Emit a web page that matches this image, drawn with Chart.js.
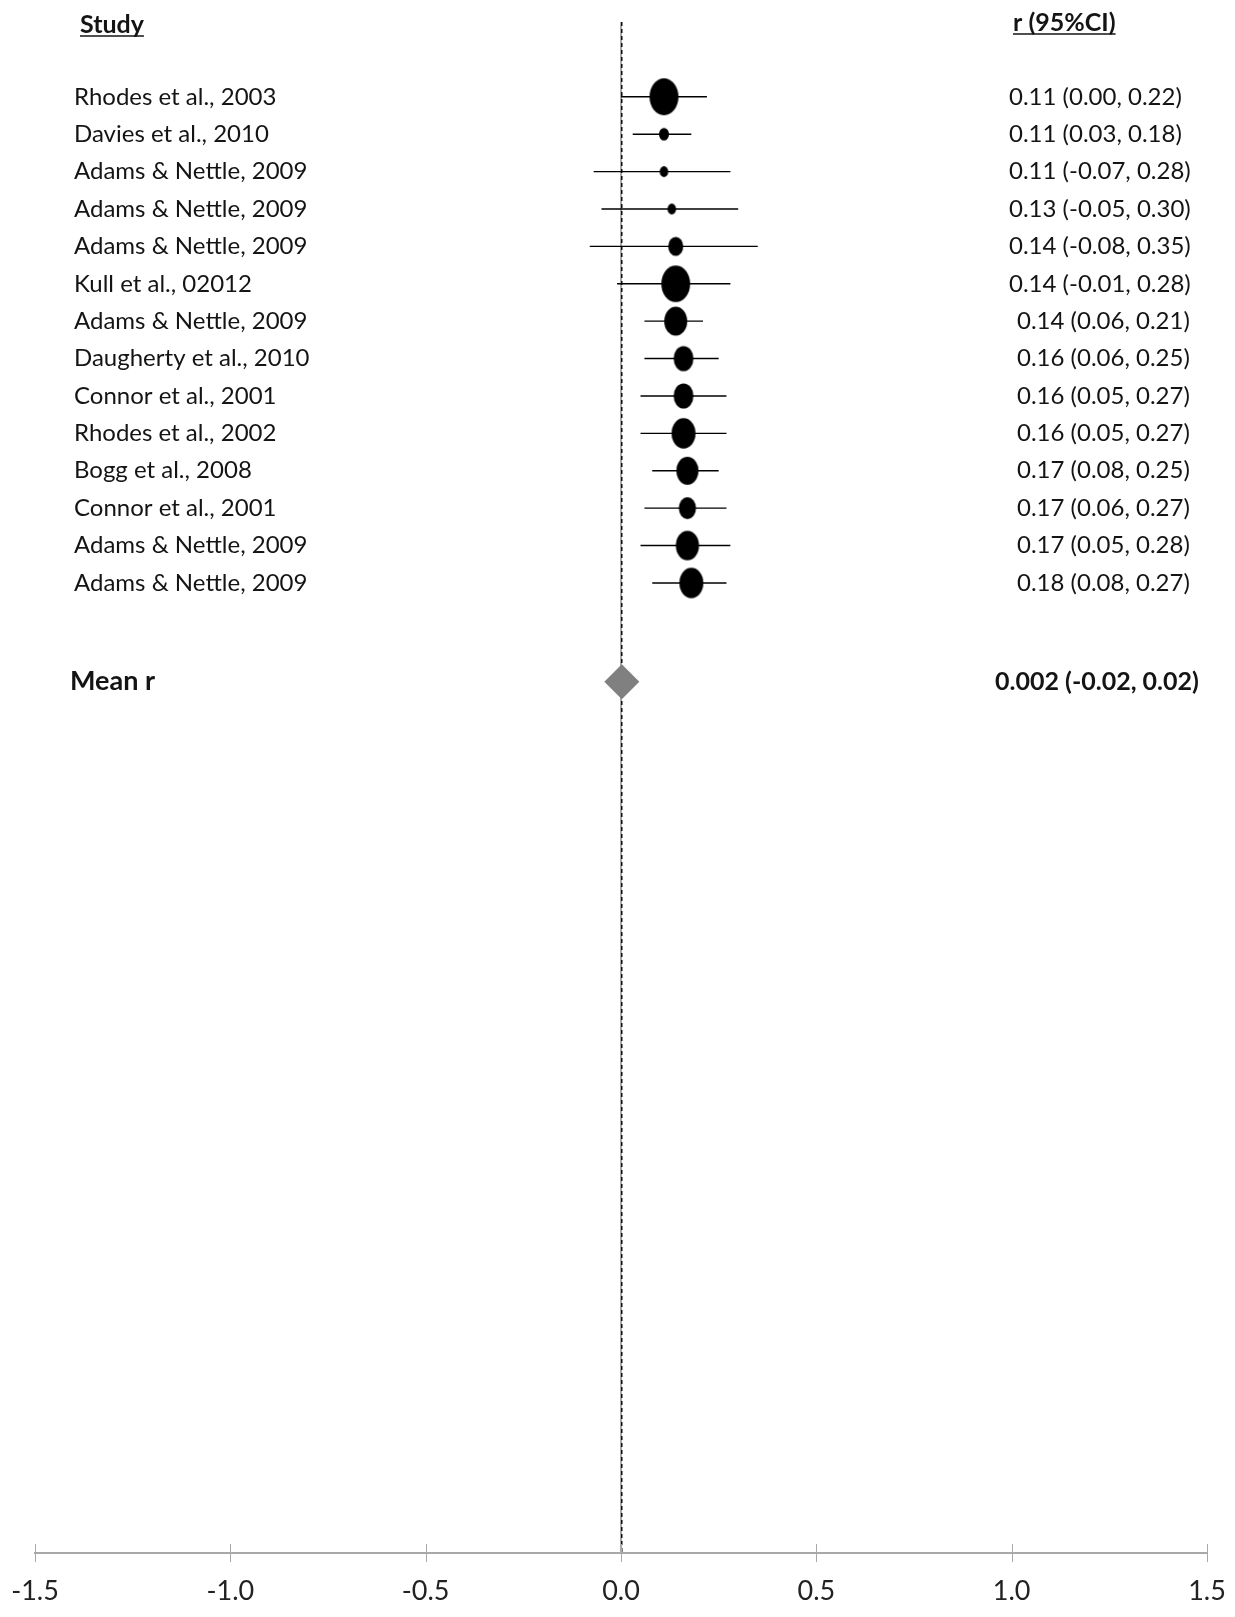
<!DOCTYPE html>
<html>
<head>
<meta charset="utf-8">
<script src="https://cdn.jsdelivr.net/npm/chart.js@4.4.1/dist/chart.umd.min.js"></script>
<style>
  html, body { margin: 0; padding: 0; background: #fff; }
  #c { display: block; }
</style>
</head>
<body>
<canvas id="c" width="1235" height="1617"></canvas>
<script>
// Forest plot: correlation r with 95% CI per study, plus pooled mean
const studies = [
  'Rhodes et al., 2003',
  'Davies et al., 2010',
  'Adams & Nettle, 2009',
  'Adams & Nettle, 2009',
  'Adams & Nettle, 2009',
  'Kull et al., 02012',
  'Adams & Nettle, 2009',
  'Daugherty et al., 2010',
  'Connor et al., 2001',
  'Rhodes et al., 2002',
  'Bogg et al., 2008',
  'Connor et al., 2001',
  'Adams & Nettle, 2009',
  'Adams & Nettle, 2009'
];
const r     = [0.11, 0.11, 0.11, 0.13, 0.14, 0.14, 0.14, 0.16, 0.16, 0.16, 0.17, 0.17, 0.17, 0.18];
const lower = [0.00, 0.03, -0.07, -0.05, -0.08, -0.01, 0.06, 0.06, 0.05, 0.05, 0.08, 0.06, 0.05, 0.08];
const upper = [0.22, 0.18, 0.28, 0.30, 0.35, 0.28, 0.21, 0.25, 0.27, 0.27, 0.25, 0.27, 0.28, 0.27];
const meanR = 0.002;
const meanLower = -0.02;
const meanUpper = 0.02;
const xTicks = [-1.5, -1.0, -0.5, 0.0, 0.5, 1.0, 1.5];

// Marker half-widths (px) reflecting study weight; markers are drawn as upright ellipses
const markerRadius = [14.5, 5, 4.3, 4.3, 7.5, 14.4, 11.5, 9.9, 9.9, 12, 11, 8.6, 11.6, 12];

// Row layout on the vertical (index) scale
const Y_MIN = -2, Y_MAX = 38.94, MEAN_ROW = 15.64;
const FONT = 'Lato, "Open Sans", sans-serif';
const AXIS_FONT = '"Liberation Sans Narrow", "Arial Narrow", Lato, sans-serif';
const TEXT = '#141414';

function ellipseMarker(rx) {
  const ry = rx * 1.27;
  const c = document.createElement('canvas');
  c.width = Math.ceil(2 * rx + 2);
  c.height = Math.ceil(2 * ry + 2);
  const g = c.getContext('2d');
  g.fillStyle = '#000';
  g.beginPath();
  g.ellipse(c.width / 2, c.height / 2, rx, ry, 0, 0, Math.PI * 2);
  g.fill();
  return c;
}
const markers = markerRadius.map(ellipseMarker);

const fmt = v => v.toFixed(2);
const ciText = studies.map((_, i) => `${fmt(r[i])} (${fmt(lower[i])}, ${fmt(upper[i])})`);
const meanText = `${meanR.toFixed(3)} (${fmt(meanLower)}, ${fmt(meanUpper)})`;

const datasets = [];
// reference line at zero
datasets.push({
  type: 'line', order: 5,
  data: [{ x: 0, y: Y_MIN }, { x: 0, y: Y_MAX }],
  borderColor: '#a8a8a8', borderWidth: 2, pointRadius: 0
});
// dashed line at the pooled mean
datasets.push({
  type: 'line', order: 4,
  data: [{ x: meanR, y: Y_MIN }, { x: meanR, y: Y_MAX }],
  borderColor: '#000', borderWidth: 1.4, borderDash: [4, 3], pointRadius: 0
});
// confidence intervals
studies.forEach((_, i) => {
  datasets.push({
    type: 'line', order: 3,
    data: [{ x: lower[i], y: i }, { x: upper[i], y: i }],
    borderColor: '#000', borderWidth: 1.4, pointRadius: 0
  });
});
// pooled mean diamond
datasets.push({
  type: 'scatter', order: 1,
  data: [{ x: meanR, y: MEAN_ROW }],
  pointStyle: 'rectRot', pointRadius: 17.5,
  backgroundColor: '#808080', borderColor: '#808080', borderWidth: 0
});
// study estimates
datasets.push({
  type: 'scatter', order: 0,
  data: r.map((v, i) => ({ x: v, y: i })),
  pointStyle: ctx => markers[ctx.dataIndex],
  pointRadius: 10
});

const textPlugin = {
  id: 'forestText',
  afterDraw(chart) {
    const { ctx, scales: { x, y } } = chart;
    ctx.save();
    ctx.fillStyle = TEXT;
    ctx.textBaseline = 'middle';
    ctx.textAlign = 'left';

    // crossing tick marks on the axis
    ctx.strokeStyle = '#a8a8a8';
    ctx.lineWidth = 1;
    const by = chart.chartArea.bottom;
    x.ticks.forEach(t => {
      const px = Math.round(x.getPixelForValue(t.value)) + 0.5;
      ctx.beginPath();
      ctx.moveTo(px, by - 9);
      ctx.lineTo(px, by + 9);
      ctx.stroke();
    });

    // headers
    ctx.font = `bold 25px ${FONT}`;
    ctx.strokeStyle = TEXT;
    ctx.lineWidth = 1.6;
    const header = (label, hx, hy) => {
      ctx.fillText(label, hx, hy);
      const w = ctx.measureText(label).width;
      ctx.beginPath();
      ctx.moveTo(hx, hy + 11);
      ctx.lineTo(hx + w, hy + 11);
      ctx.stroke();
    };
    header('Study', 80, 25);
    header('r (95%CI)', 1013, 23);

    // study rows
    ctx.font = `24px ${FONT}`;
    studies.forEach((s, i) => {
      const py = y.getPixelForValue(i);
      ctx.fillText(s, 74, py);
      ctx.fillText(ciText[i], i < 6 ? 1009 : 1017, py);
    });

    // pooled mean row
    const my = y.getPixelForValue(MEAN_ROW);
    ctx.font = `bold 27px ${FONT}`;
    ctx.fillText('Mean r', 70, my);
    ctx.font = `bold 25px ${FONT}`;
    ctx.fillText(meanText, 995, my);
    ctx.restore();
  }
};

new Chart(document.getElementById('c'), {
  type: 'scatter',
  data: { datasets },
  options: {
    responsive: false,
    animation: false,
    devicePixelRatio: 1,
    events: [],
    layout: { padding: { left: 35, right: 28, top: 22, bottom: 0 } },
    plugins: { legend: { display: false }, tooltip: { enabled: false } },
    scales: {
      x: {
        type: 'linear',
        min: -1.5, max: 1.5,
        afterBuildTicks: s => { s.ticks = xTicks.map(v => ({ value: v })); },
        afterFit: s => { s.height = 64; s.paddingLeft = 0; s.paddingRight = 0; },
        grid: { display: false },
        border: { display: true, color: '#a8a8a8', width: 2 },
        ticks: {
          padding: 14,
          color: '#222',
          font: { family: AXIS_FONT, size: 27 },
          maxRotation: 0,
          autoSkip: false,
          callback: v => Number(v).toFixed(1)
        }
      },
      y: {
        type: 'linear',
        min: Y_MIN, max: Y_MAX,
        reverse: true,
        display: false
      }
    }
  },
  plugins: [textPlugin]
});
</script>
</body>
</html>
